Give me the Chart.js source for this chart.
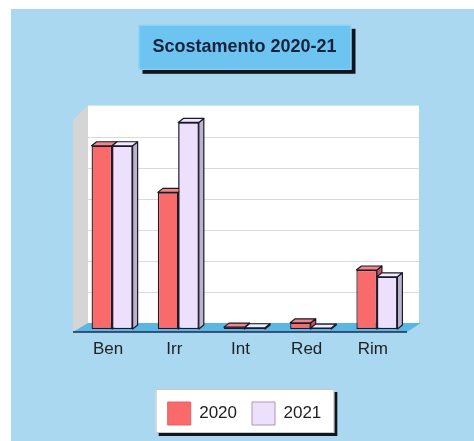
<!DOCTYPE html>
<html>
<head>
<meta charset="utf-8">
<script src="https://cdn.jsdelivr.net/npm/chart.js@4/dist/chart.umd.min.js"></script>
<style>
    html, body { margin: 0; padding: 0; background: #fff; }
    #wrap { position: relative; width: 474px; height: 441px; }
</style>
</head>
<body>
<div id="wrap"><canvas id="chart" width="474" height="441"></canvas></div>
<script>
    "use strict";

    const categories = ['Ben', 'Irr', 'Int', 'Red', 'Rim'];
    const seriesNames = ['2020', '2021'];
    const values2020 = [5.9, 4.4, 0.06, 0.2, 1.9];
    const values2021 = [5.9, 6.65, 0.04, 0.03, 1.68];
    const gridValues = [1, 2, 3, 4, 5, 6];

    const barFill = ['#f96b6b', '#ece0fc'];
    const barTop = ['#f28585', '#f2eafc'];
    const barSide = ['#cf5252', '#bdb4cc'];
    const swatchEdge = ['#e86060', '#a898b8'];

    // depth of the fake 3d box
    const front = {dx: -6, dy: 3};
    const back = {dx: 9, dy: -6};
    const bar3d = {dx: 5, dy: 4};

    const poly = (ctx, pts, fill, stroke, lw) => {
        ctx.beginPath();
        ctx.moveTo(pts[0][0], pts[0][1]);
        for (let i = 1; i < pts.length; i++) {
            ctx.lineTo(pts[i][0], pts[i][1]);
        }
        ctx.closePath();
        if (fill) {
            ctx.fillStyle = fill;
            ctx.fill();
        }
        if (stroke) {
            ctx.strokeStyle = stroke;
            ctx.lineWidth = lw || 1;
            ctx.stroke();
        }
    };

    const drawDepth = (ctx, bar, i) => {
        const p = bar.getProps(['x', 'y', 'base', 'width'], true);
        const l = p.x - p.width / 2;
        const r = p.x + p.width / 2;
        const {dx, dy} = bar3d;
        poly(ctx, [[r, p.y], [r + dx, p.y - dy], [r + dx, p.base - dy], [r, p.base]], barSide[i], '#1a1a2a', 1.2);
        poly(ctx, [[l, p.y], [l + dx, p.y - dy], [r + dx, p.y - dy], [r, p.y]], barTop[i], '#1a1a2a', 1.2);
    };

    const scenery = {
        id: 'scenery',
        beforeDraw: (chart) => {
            const ctx = chart.ctx;
            const area = chart.chartArea;
            const yScale = chart.scales.y;

            ctx.save();
            ctx.fillStyle = '#ffffff';
            ctx.fillRect(0, 0, chart.width, chart.height);
            ctx.fillStyle = '#a9d8f0';
            ctx.fillRect(11, 9, chart.width - 11, chart.height - 9);

            // title box
            const tb = chart.titleBlock;
            const tcx = (tb.left + tb.right) / 2;
            const tcy = tb.top + tb.options.padding.top + 10.8;
            ctx.fillStyle = '#10141c';
            ctx.fillRect(tcx - 106 + 4, tcy - 22 + 4, 213, 45);
            ctx.fillStyle = '#6ec4f1';
            ctx.fillRect(tcx - 106, tcy - 22, 213, 45);
            ctx.strokeStyle = '#9ad6f6';
            ctx.lineWidth = 1;
            ctx.strokeRect(tcx - 105.5, tcy - 21.5, 212, 44);

            // legend box
            const hb = chart.legend.legendHitBoxes;
            if (hb && hb.length) {
                const last = hb[hb.length - 1];
                const lx = hb[0].left - 12;
                const ly = hb[0].top - 13;
                const lw = last.left + last.width + 13 - lx;
                const lh = hb[0].height + 21;
                ctx.fillStyle = '#10141c';
                ctx.fillRect(lx + 3, ly + 3, lw, lh);
                ctx.fillStyle = '#ffffff';
                ctx.fillRect(lx, ly, lw, lh);
                ctx.strokeStyle = '#c8c8c8';
                ctx.strokeRect(lx + 0.5, ly + 0.5, lw - 1, lh - 1);
            }

            // back wall
            const L = area.left, R = area.right, B = area.bottom, T = area.top;
            ctx.fillStyle = '#ffffff';
            ctx.fillRect(L + back.dx, T + back.dy, R - L, B - T);

            ctx.strokeStyle = '#dadada';
            ctx.lineWidth = 1;
            gridValues.forEach((v) => {
                const y = Math.round(yScale.getPixelForValue(v) + back.dy) + 0.5;
                ctx.beginPath();
                ctx.moveTo(L + back.dx, y);
                ctx.lineTo(R + back.dx, y);
                ctx.stroke();
            });

            // left wall
            poly(ctx, [
                [L + front.dx, B + front.dy],
                [L + back.dx, B + back.dy],
                [L + back.dx, T + back.dy],
                [L + front.dx, T + front.dy + 5]
            ], '#d5d5d5');

            // floor
            poly(ctx, [
                [L + front.dx, B + front.dy],
                [R + front.dx + 3, B + front.dy],
                [R + back.dx + 2, B + back.dy],
                [L + back.dx, B + back.dy]
            ], '#5cb6e2');
            ctx.strokeStyle = '#1d2b52';
            ctx.lineWidth = 1.5;
            ctx.beginPath();
            ctx.moveTo(L + front.dx, B + front.dy);
            ctx.lineTo(R + front.dx + 3, B + front.dy);
            ctx.stroke();
            ctx.restore();
        },
        afterDatasetsDraw: (chart) => {
            const ctx = chart.ctx;
            const m0 = chart.getDatasetMeta(0);
            const m1 = chart.getDatasetMeta(1);
            ctx.save();
            ctx.lineJoin = 'round';
            // per category: 2020 depth, then 2021 front drawn again on top, then 2021 depth
            m0.data.forEach((bar, j) => {
                drawDepth(ctx, bar, 0);
                m1.data[j].draw(ctx, chart.chartArea);
                drawDepth(ctx, m1.data[j], 1);
            });
            ctx.restore();
        }
    };

    const makeSet = (i, data) => ({
        label: seriesNames[i],
        data: data,
        backgroundColor: barFill[i],
        borderColor: '#1a1a2a',
        borderWidth: 1.3,
        borderSkipped: false,
        categoryPercentage: 0.62,
        barPercentage: 1
    });

    new Chart(document.getElementById('chart'), {
        type: 'bar',
        data: {
            labels: categories,
            datasets: [makeSet(0, values2020), makeSet(1, values2021)]
        },
        options: {
            responsive: false,
            animation: false,
            layout: {
                padding: {left: 79, right: 64, top: 0, bottom: 6}
            },
            scales: {
                x: {
                    grid: {display: false, drawTicks: false},
                    border: {display: false},
                    ticks: {
                        color: '#222',
                        padding: 10,
                        labelOffset: -4,
                        font: {family: 'Liberation Sans, Arial, sans-serif', size: 17}
                    },
                    afterFit: (scale) => {
                        scale.height = 58;
                    }
                },
                y: {
                    display: false,
                    min: 0,
                    max: 7
                }
            },
            plugins: {
                title: {
                    display: true,
                    text: 'Scostamento 2020-21',
                    color: '#18223c',
                    padding: {top: 36, bottom: 54},
                    font: {family: 'Liberation Sans, Arial, sans-serif', size: 18, weight: 'bold'}
                },
                legend: {
                    position: 'bottom',
                    labels: {
                        boxWidth: 23,
                        boxHeight: 23,
                        padding: 15,
                        color: '#222',
                        font: {family: 'Liberation Sans, Arial, sans-serif', size: 17},
                        generateLabels: (chart) => chart.data.datasets.map((ds, i) => ({
                            text: ds.label,
                            fillStyle: ds.backgroundColor,
                            strokeStyle: swatchEdge[i],
                            lineWidth: 1,
                            fontColor: '#222',
                            hidden: false,
                            datasetIndex: i
                        }))
                    }
                },
                tooltip: {enabled: false}
            }
        },
        plugins: [scenery]
    });
</script>
</body>
</html>
